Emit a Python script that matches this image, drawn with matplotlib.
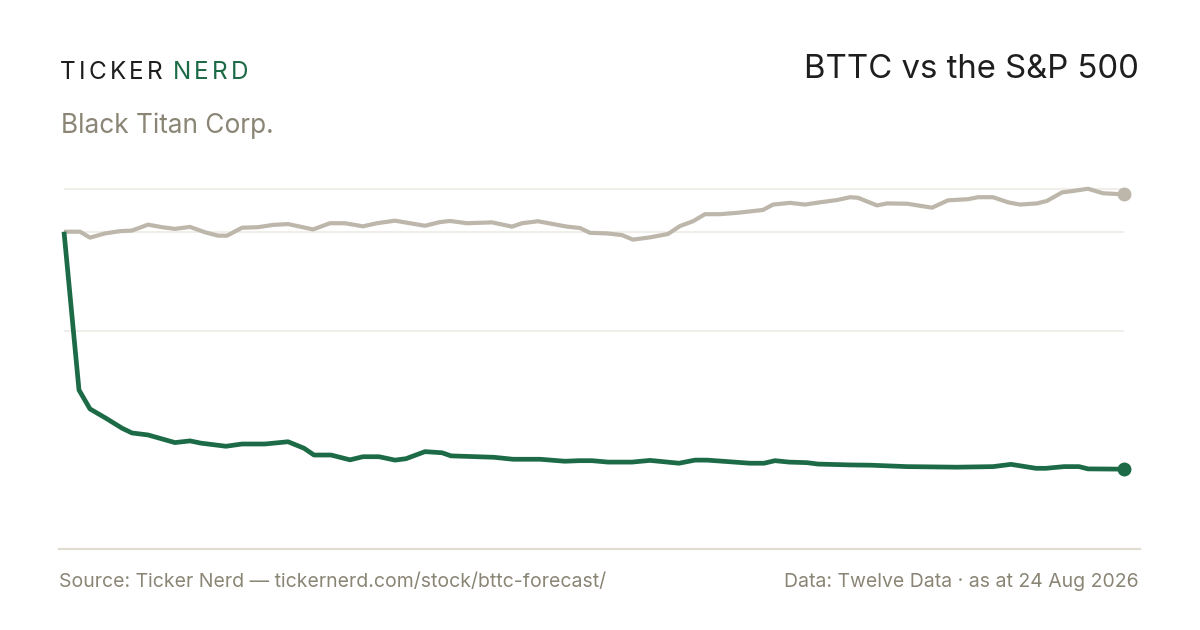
import numpy as np
import matplotlib
matplotlib.use("Agg")
from matplotlib import pyplot as plt
from matplotlib.lines import Line2D

plt.rcParams['font.family'] = ['Inter', 'DejaVu Sans']

GREEN = "#1c6b46"
SAND = "#bdb6aa"
MUTED = "#8a8575"
INK = "#1e1e1e"
GRID = "#ece9e3"

# days since start of window, values indexed to 100
spx_days = [0, 16, 26, 41, 56, 68, 84, 98, 111, 126, 141, 154, 163, 178, 194, 209,
            224, 236, 249, 266, 281, 299, 313, 331, 346, 361, 376, 386, 403, 428,
            448, 458, 474, 489, 503, 516, 526, 543, 558, 569, 586, 604, 616, 629,
            641, 656, 674, 699, 709, 726, 741, 756, 773, 786, 794, 813, 823, 843,
            868, 884, 904, 914, 929, 944, 956, 973, 983, 998, 1009, 1024, 1039, 1060]
spx_vals = [100.0, 100.0, 97.9, 99.4, 100.2, 100.4, 102.5, 101.6, 101.0, 101.7, 99.8,
            98.6, 98.6, 101.4, 101.6, 102.4, 102.7, 101.8, 100.8, 103.0, 103.0, 101.9,
            103.0, 103.9, 103.0, 102.1, 103.4, 103.8, 103.0, 103.3, 101.8, 103.0,
            103.7, 102.7, 101.8, 101.3, 99.6, 99.4, 98.8, 97.2, 98.0, 99.2, 102.0,
            103.7, 106.2, 106.2, 106.7, 107.7, 109.6, 110.2, 109.6, 110.4, 111.2,
            112.2, 112.0, 109.3, 110.0, 109.9, 108.5, 111.1, 111.5, 112.2, 112.2,
            110.4, 109.6, 110.0, 110.9, 113.9, 114.4, 115.2, 113.6, 113.2]

bttc_days = [0, 15, 26, 42, 58, 68, 84, 111, 126, 137, 162, 178, 201, 224, 240, 250,
             267, 286, 299, 315, 331, 342, 361, 378, 387, 430, 449, 476, 501, 515,
             528, 544, 568, 586, 615, 631, 643, 686, 700, 711, 725, 743, 754, 786,
             807, 843, 893, 929, 947, 972, 982, 1000, 1015, 1024, 1060]
bttc_vals = [100.0, 44.0, 37.3, 34.0, 30.5, 28.8, 28.1, 25.4, 26.0, 25.2, 24.1, 24.9,
             24.9, 25.7, 23.4, 21.0, 21.0, 19.3, 20.4, 20.4, 19.2, 19.7, 22.2, 21.8,
             20.7, 20.2, 19.5, 19.5, 18.8, 19.0, 19.0, 18.5, 18.5, 19.1, 18.1, 19.2,
             19.2, 18.1, 18.1, 19.0, 18.5, 18.3, 17.8, 17.5, 17.4, 16.9, 16.7, 16.9,
             17.7, 16.3, 16.3, 16.9, 16.9, 16.1, 16.0]

grid_levels = [115, 100, 65]

W, H = 1200, 630
fig = plt.figure(figsize=(W / 100, H / 100), dpi=100)
fig.patch.set_facecolor("white")


def fx(px):
    return px / W


def fy(py):
    return 1 - py / H


ax = fig.add_axes([fx(64), fy(540), fx(1124) - fx(64), fy(180) - fy(540)])
ax.set_xlim(0, 1060)
ax.set_ylim(-9.06, 118.29)
for lvl in grid_levels:
    ax.axhline(lvl, color=GRID, lw=1.1, zorder=0)
ax.plot(spx_days, spx_vals, color=SAND, lw=3.0, solid_joinstyle="round",
        solid_capstyle="butt", zorder=2, clip_on=False)
ax.plot(bttc_days, bttc_vals, color=GREEN, lw=3.4, solid_joinstyle="round",
        solid_capstyle="butt", zorder=3, clip_on=False)
ax.plot(spx_days[-1], spx_vals[-1], "o", color=SAND, ms=9, clip_on=False, zorder=4)
ax.plot(bttc_days[-1], bttc_vals[-1], "o", color=GREEN, ms=9, clip_on=False, zorder=4)
ax.axis("off")

# bottom rule
fig.add_artist(Line2D([fx(59), fx(1140)], [fy(549), fy(549)], color="#e0dcd2", lw=1.6))

# spaced wordmark
renderer = fig.canvas.get_renderer()


def spaced(text, x, y, color, size, track):
    for ch in text:
        t = fig.text(fx(x), fy(y), ch, color=color, fontsize=size, va="baseline", ha="left")
        bb = t.get_window_extent(renderer=renderer)
        x += bb.width + track
    return x


end = spaced("TICKER", 60, 79, INK, 17.5, 3.2)
spaced("NERD", end + 7, 79, GREEN, 17.5, 3.2)

fig.text(fx(61), fy(133), "Black Titan Corp.", color=MUTED, fontsize=18.9, va="baseline")
fig.text(fx(1139), fy(78), "BTTC vs the S&P 500", color=INK, fontsize=23.7,
         va="baseline", ha="right")
fig.text(fx(59), fy(587), "Source: Ticker Nerd \u2014 tickernerd.com/stock/bttc-forecast/",
         color=MUTED, fontsize=14.0, va="baseline")
fig.text(fx(1139), fy(587), "Data: Twelve Data \u00b7 as at 24 Aug 2026",
         color=MUTED, fontsize=14.0, va="baseline", ha="right")

fig.savefig("out.png", dpi=100, facecolor="white")
